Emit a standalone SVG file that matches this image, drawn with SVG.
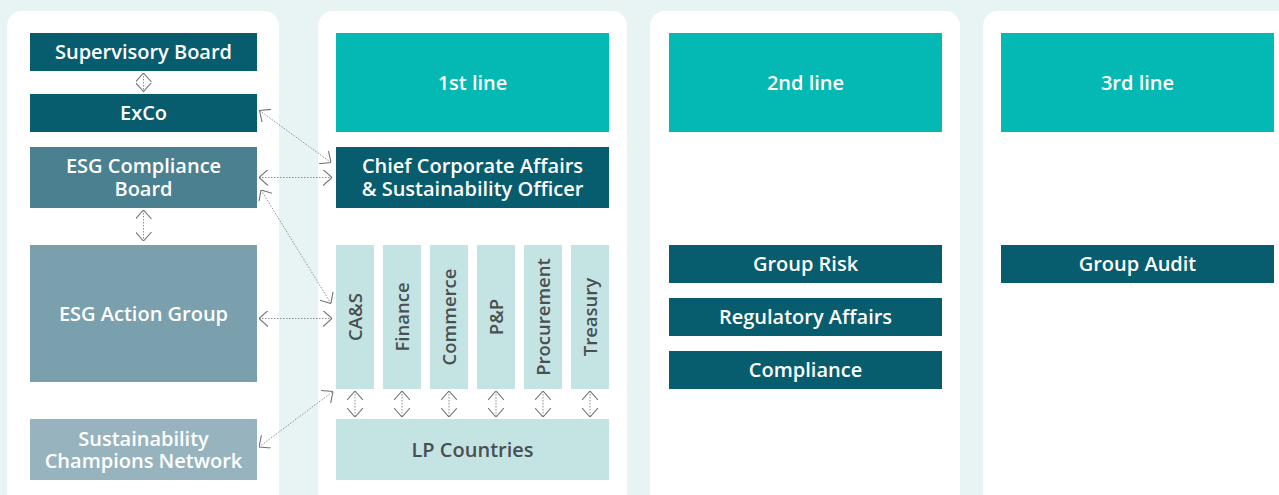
<svg xmlns="http://www.w3.org/2000/svg" width="1279" height="495" viewBox="0 0 1279 495">
  <defs>
    <style>
      .panel{fill:#ffffff}
      .dark{fill:#075c6d}
      .teal{fill:#04b8b3}
      .light{fill:#c3e4e2}
      .t{font-family:"Open Sans","Liberation Sans",sans-serif;font-weight:600;font-size:20px;text-anchor:middle}
      .r{font-size:18.5px}
      .w{fill:#ffffff}
      .g{fill:#4a4f52}
      .conn line{stroke:#8a8f92;stroke-width:1;stroke-dasharray:1.5 1.5;fill:none;marker-start:url(#ah);marker-end:url(#ah)}
    </style>
    <marker id="ah" viewBox="0 0 9 16" refX="9" refY="8" markerWidth="9" markerHeight="16" markerUnits="userSpaceOnUse" orient="auto-start-reverse">
      <path d="M0,0 L9,8 L0,16" fill="none" stroke="#6f7477" stroke-width="1.1"/>
    </marker>
  </defs>
  <rect width="1279" height="495" fill="#e8f4f4"/>
  <rect class="panel" x="7" y="11" width="272" height="500" rx="15"/>
  <rect class="panel" x="318" y="11" width="309" height="500" rx="15"/>
  <rect class="panel" x="650" y="11" width="310" height="500" rx="15"/>
  <rect class="panel" x="983" y="11" width="320" height="500" rx="15"/>

  <g id="supervisory-board"><rect class="dark" x="30" y="33" width="227" height="38"/><text class="t w" x="143.5" y="59">Supervisory Board</text></g>
  <g id="exco"><rect class="dark" x="30" y="94" width="227" height="38"/><text class="t w" x="143.5" y="120">ExCo</text></g>
  <g id="esg-compliance-board"><rect x="30" y="147" width="227" height="61" fill="#4a808f"/><text class="t w" x="143.5" y="173">ESG Compliance<tspan x="143.5" dy="23">Board</tspan></text></g>
  <g id="esg-action-group"><rect x="30" y="245" width="227" height="137" fill="#7a9fad"/><text class="t w" x="143.5" y="321">ESG Action Group</text></g>
  <g id="sustainability-champions"><rect x="30" y="419" width="227" height="61" fill="#97b4be"/><text class="t w" x="143.5" y="446">Sustainability<tspan x="143.5" dy="22">Champions Network</tspan></text></g>

  <g id="first-line"><rect class="teal" x="336" y="33" width="273" height="99"/><text class="t w" x="472.5" y="90">1st line</text></g>
  <g id="ccaso"><rect class="dark" x="336" y="147" width="273" height="61"/><text class="t w" x="472.5" y="173">Chief Corporate Affairs<tspan x="472.5" dy="23">&amp; Sustainability Officer</tspan></text></g>
  <g id="cas"><rect class="light" x="336" y="245" width="38" height="144"/><text class="t r g" transform="translate(361.5,317) rotate(-90)">CA&amp;S</text></g>
  <g id="finance"><rect class="light" x="383" y="245" width="38" height="144"/><text class="t r g" transform="translate(408.5,317) rotate(-90)">Finance</text></g>
  <g id="commerce"><rect class="light" x="430" y="245" width="38" height="144"/><text class="t r g" transform="translate(455.5,317) rotate(-90)">Commerce</text></g>
  <g id="pp"><rect class="light" x="477" y="245" width="38" height="144"/><text class="t r g" transform="translate(502.5,317) rotate(-90)">P&amp;P</text></g>
  <g id="procurement"><rect class="light" x="524" y="245" width="38" height="144"/><text class="t r g" transform="translate(549.5,317) rotate(-90)">Procurement</text></g>
  <g id="treasury"><rect class="light" x="571" y="245" width="38" height="144"/><text class="t r g" transform="translate(596.5,317) rotate(-90)">Treasury</text></g>
  <g id="lp-countries"><rect class="light" x="336" y="419" width="273" height="61"/><text class="t g" x="472.5" y="457">LP Countries</text></g>

  <g id="second-line"><rect class="teal" x="669" y="33" width="273" height="99"/><text class="t w" x="805.5" y="90">2nd line</text></g>
  <g id="group-risk"><rect class="dark" x="669" y="245" width="273" height="38"/><text class="t w" x="805.5" y="271">Group Risk</text></g>
  <g id="regulatory-affairs"><rect class="dark" x="669" y="298" width="273" height="38"/><text class="t w" x="805.5" y="324">Regulatory Affairs</text></g>
  <g id="compliance"><rect class="dark" x="669" y="351" width="273" height="38"/><text class="t w" x="805.5" y="377">Compliance</text></g>

  <g id="third-line"><rect class="teal" x="1001" y="33" width="273" height="99"/><text class="t w" x="1137.5" y="90">3rd line</text></g>
  <g id="group-audit"><rect class="dark" x="1001" y="245" width="273" height="38"/><text class="t w" x="1137.5" y="271">Group Audit</text></g>

  <g id="connectors" class="conn">
    <line x1="143.5" y1="73" x2="143.5" y2="91.5"/>
    <line x1="143.5" y1="210" x2="143.5" y2="241"/>
    <line x1="259.5" y1="110.5" x2="331" y2="162.5"/>
    <line x1="259" y1="177.5" x2="332" y2="177.5"/>
    <line x1="261" y1="190" x2="331" y2="303.5"/>
    <line x1="259" y1="318.5" x2="332" y2="318.5"/>
    <line x1="259" y1="447" x2="333" y2="391.5"/>
    <line x1="355" y1="391" x2="355" y2="417"/>
    <line x1="402" y1="391" x2="402" y2="417"/>
    <line x1="449" y1="391" x2="449" y2="417"/>
    <line x1="496" y1="391" x2="496" y2="417"/>
    <line x1="543" y1="391" x2="543" y2="417"/>
    <line x1="590" y1="391" x2="590" y2="417"/>
  </g>
</svg>
